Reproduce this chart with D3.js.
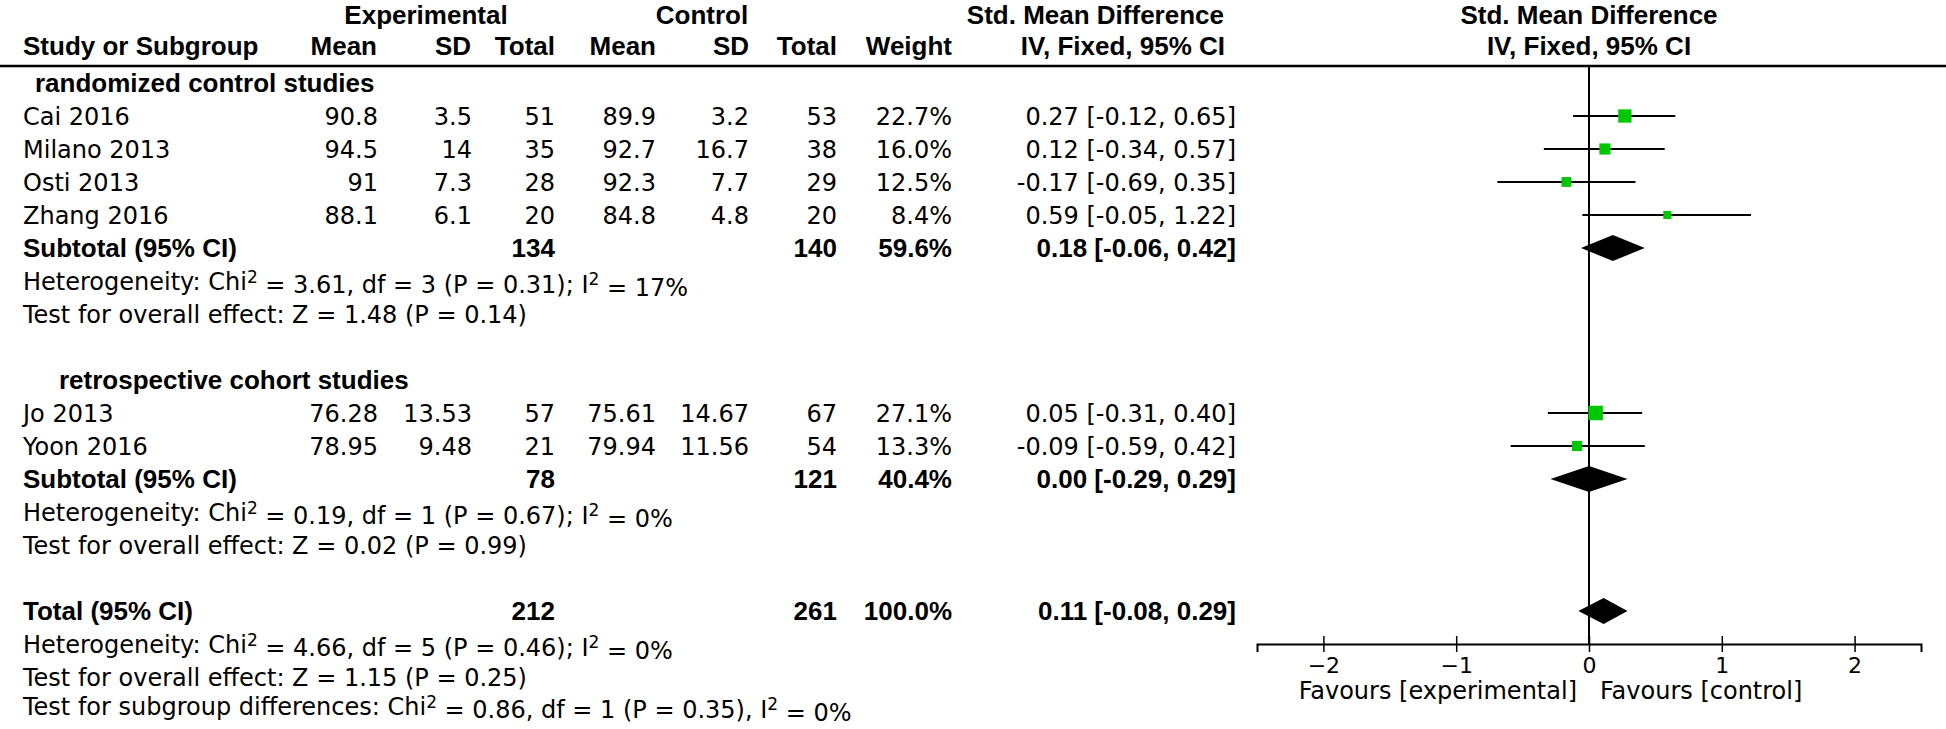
<!DOCTYPE html>
<html>
<head>
<meta charset="utf-8">
<script src="https://cdn.jsdelivr.net/npm/d3@7"></script>
<style>
  html, body { margin: 0; padding: 0; background: #fff; }
  svg { display: block; }
  .n { font-family: "DejaVu Sans", sans-serif; font-size: 24px; fill: #000; }
  .b { font-family: "Liberation Sans", Arial, sans-serif; font-weight: bold; font-size: 26px; fill: #000; }
</style>
</head>
<body>
<svg id="chart" width="1946" height="729"></svg>
<script>
// ---------------- data ----------------
const studies   = ["Cai 2016", "Milano 2013", "Osti 2013", "Zhang 2016", "Jo 2013", "Yoon 2016"];
const studyGroup = [0, 0, 0, 0, 1, 1];
const expMean   = [90.8, 94.5, 91, 88.1, 76.28, 78.95];
const expSD     = [3.5, 14, 7.3, 6.1, 13.53, 9.48];
const expTotal  = [51, 35, 28, 20, 57, 21];
const ctlMean   = [89.9, 92.7, 92.3, 84.8, 75.61, 79.94];
const ctlSD     = [3.2, 16.7, 7.7, 4.8, 14.67, 11.56];
const ctlTotal  = [53, 38, 29, 20, 67, 54];
const weights   = [22.7, 16.0, 12.5, 8.4, 27.1, 13.3];
const smd       = [0.27, 0.12, -0.17, 0.59, 0.05, -0.09];
const smdLow    = [-0.12, -0.34, -0.69, -0.05, -0.31, -0.59];
const smdHigh   = [0.65, 0.57, 0.35, 1.22, 0.40, 0.42];

const groupNames    = ["randomized control studies", "retrospective cohort studies"];
const groupExpTotal = [134, 78];
const groupCtlTotal = [140, 121];
const groupWeight   = [59.6, 40.4];
const groupSmd      = [0.18, 0.00];
const groupLow      = [-0.06, -0.29];
const groupHigh     = [0.42, 0.29];
const groupChi2     = [3.61, 0.19];
const groupDf       = [3, 1];
const groupHetP     = [0.31, 0.67];
const groupI2       = [17, 0];
const groupZ        = [1.48, 0.02];
const groupZP       = [0.14, 0.99];

const totalExp = 212, totalCtl = 261, totalWeight = 100.0;
const totalSmd = 0.11, totalLow = -0.08, totalHigh = 0.29;
const totalChi2 = 4.66, totalDf = 5, totalHetP = 0.46, totalI2 = 0;
const totalZ = 1.15, totalZP = 0.25;
const subDiffChi2 = 0.86, subDiffDf = 1, subDiffP = 0.35, subDiffI2 = 0;

const axisTicks = [-2, -1, 0, 1, 2];
const favLeft = "Favours [experimental]";
const favRight = "Favours [control]";

// ---------------- layout ----------------
const W = 1946, H = 729;
const svg = d3.select("#chart");
const rowY = r => Math.min(116 + 33 * r, 706);   // row centre
const colRight = { expMean: 378, expSD: 472, expTotal: 555, ctlMean: 656, ctlSD: 749, ctlTotal: 837, weight: 952, ci: 1236 };
const xNameLeft = 23;
const x = d3.scaleLinear().domain([-2.5, 2.5]).range([1257, 1921]);
const sq = d3.scaleSqrt().domain([0, 27.1]).range([0, 14.5]);
const axisY = 644;
const headerRuleY = 66;

const f2 = v => v.toFixed(2);
const ciStr = (m, l, h) => `${f2(m)} [${f2(l)}, ${f2(h)}]`;

function txt(cls, xx, yy, s, anchor) {
  return svg.append("text").attr("class", cls).attr("x", xx).attr("y", yy)
    .attr("dy", "0.36em").attr("text-anchor", anchor || "start").text(s);
}
function supLine(yy, pre, mid, post) {
  const t = svg.append("text").attr("class", "n").attr("x", xNameLeft).attr("y", yy).attr("dy", "0.36em");
  t.append("tspan").text(pre);
  t.append("tspan").attr("dy", "-0.42em").attr("font-size", "17px").text("2");
  t.append("tspan").attr("dy", "0.42em").text(mid);
  t.append("tspan").attr("dy", "-0.42em").attr("font-size", "17px").text("2");
  t.append("tspan").attr("dy", "0.42em").text(post);
}
function hetText(yy, chi2, df, p, i2) {
  supLine(yy, "Heterogeneity: Chi", ` = ${f2(chi2)}, df = ${df} (P = ${f2(p)}); I`, ` = ${i2}%`);
}
function testText(yy, z, p) {
  txt("n", xNameLeft, yy, `Test for overall effect: Z = ${f2(z)} (P = ${f2(p)})`);
}

// ---------------- header ----------------
const h1 = 15, h2 = 46;
txt("b", 426, h1, "Experimental", "middle");
txt("b", 702, h1, "Control", "middle");
txt("b", 1224, h1, "Std. Mean Difference", "end");
txt("b", x(0), h1, "Std. Mean Difference", "middle");
txt("b", xNameLeft, h2, "Study or Subgroup");
txt("b", 377, h2, "Mean", "end");
txt("b", 471, h2, "SD", "end");
txt("b", 555, h2, "Total", "end");
txt("b", 656, h2, "Mean", "end");
txt("b", 749, h2, "SD", "end");
txt("b", 837, h2, "Total", "end");
txt("b", 952, h2, "Weight", "end");
txt("b", 1225, h2, "IV, Fixed, 95% CI", "end");
txt("b", x(0), h2, "IV, Fixed, 95% CI", "middle");

svg.append("line").attr("x1", 0).attr("x2", W).attr("y1", headerRuleY).attr("y2", headerRuleY)
  .attr("stroke", "#000").attr("stroke-width", 2.5);

// zero line
svg.append("line").attr("x1", x(0)).attr("x2", x(0)).attr("y1", headerRuleY).attr("y2", axisY)
  .attr("stroke", "#000").attr("stroke-width", 2);

// ---------------- rows ----------------
const groupStartRow = [0, 9];
const groupIndent = [35, 59];
const diamondHalf = 13;

function diamond(yy, m, l, h) {
  const pts = [[x(l), yy], [x(m), yy - diamondHalf], [x(h), yy], [x(m), yy + diamondHalf]];
  svg.append("path").attr("d", "M" + pts.map(p => p.join(",")).join("L") + "Z").attr("fill", "#000");
}

groupNames.forEach((g, gi) => {
  const r0 = groupStartRow[gi];
  txt("b", groupIndent[gi], rowY(r0 - 1), g);
  const idx = studies.map((s, i) => i).filter(i => studyGroup[i] === gi);
  idx.forEach((i, k) => {
    const yy = rowY(r0 + k);
    txt("n", xNameLeft, yy, studies[i]);
    txt("n", colRight.expMean, yy, String(expMean[i]), "end");
    txt("n", colRight.expSD, yy, String(expSD[i]), "end");
    txt("n", colRight.expTotal, yy, String(expTotal[i]), "end");
    txt("n", colRight.ctlMean, yy, String(ctlMean[i]), "end");
    txt("n", colRight.ctlSD, yy, String(ctlSD[i]), "end");
    txt("n", colRight.ctlTotal, yy, String(ctlTotal[i]), "end");
    txt("n", colRight.weight, yy, weights[i].toFixed(1) + "%", "end");
    txt("n", colRight.ci, yy, ciStr(smd[i], smdLow[i], smdHigh[i]), "end");
    // CI line
    svg.append("line").attr("x1", x(smdLow[i])).attr("x2", x(smdHigh[i])).attr("y1", yy).attr("y2", yy)
      .attr("stroke", "#000").attr("stroke-width", 2);
    const s = sq(weights[i]);
    svg.append("rect").attr("x", x(smd[i]) - s / 2).attr("y", yy - s / 2).attr("width", s).attr("height", s)
      .attr("fill", "#00c800");
  });
  const rs = r0 + idx.length;
  const ys = rowY(rs);
  txt("b", xNameLeft, ys, "Subtotal (95% CI)");
  txt("b", colRight.expTotal, ys, String(groupExpTotal[gi]), "end");
  txt("b", colRight.ctlTotal, ys, String(groupCtlTotal[gi]), "end");
  txt("b", colRight.weight, ys, groupWeight[gi].toFixed(1) + "%", "end");
  txt("b", colRight.ci, ys, ciStr(groupSmd[gi], groupLow[gi], groupHigh[gi]), "end");
  diamond(ys, groupSmd[gi], groupLow[gi], groupHigh[gi]);
  hetText(rowY(rs + 1), groupChi2[gi], groupDf[gi], groupHetP[gi], groupI2[gi]);
  testText(rowY(rs + 2), groupZ[gi], groupZP[gi]);
});

// total
const rt = 15;
const yt = rowY(rt);
txt("b", xNameLeft, yt, "Total (95% CI)");
txt("b", colRight.expTotal, yt, String(totalExp), "end");
txt("b", colRight.ctlTotal, yt, String(totalCtl), "end");
txt("b", colRight.weight, yt, totalWeight.toFixed(1) + "%", "end");
txt("b", colRight.ci, yt, ciStr(totalSmd, totalLow, totalHigh), "end");
diamond(yt, totalSmd, totalLow, totalHigh);
hetText(rowY(rt + 1), totalChi2, totalDf, totalHetP, totalI2);
testText(rowY(rt + 2), totalZ, totalZP);
supLine(rowY(rt + 3), "Test for subgroup differences: Chi",
  ` = ${f2(subDiffChi2)}, df = ${subDiffDf} (P = ${f2(subDiffP)}), I`, ` = ${subDiffI2}%`);

// ---------------- axis ----------------
const axis = d3.axisBottom(x).tickValues(axisTicks).tickSizeOuter(0).tickSize(8).tickPadding(6)
  .tickFormat(d3.format("d"));
const gAxis = svg.append("g").attr("transform", `translate(0,${axisY})`).call(axis);
gAxis.select(".domain").attr("stroke", "#000").attr("stroke-width", 2);
gAxis.selectAll(".tick line").attr("y1", -8).attr("y2", 8).attr("stroke", "#000").attr("stroke-width", 1.5);
gAxis.selectAll(".tick text").attr("font-family", "DejaVu Sans, sans-serif").attr("font-size", 22)
  .attr("fill", "#000").attr("y", 13);

txt("n", x(0) - 12, 690, favLeft, "end");
txt("n", x(0) + 11, 690, favRight, "start");
</script>
</body>
</html>
